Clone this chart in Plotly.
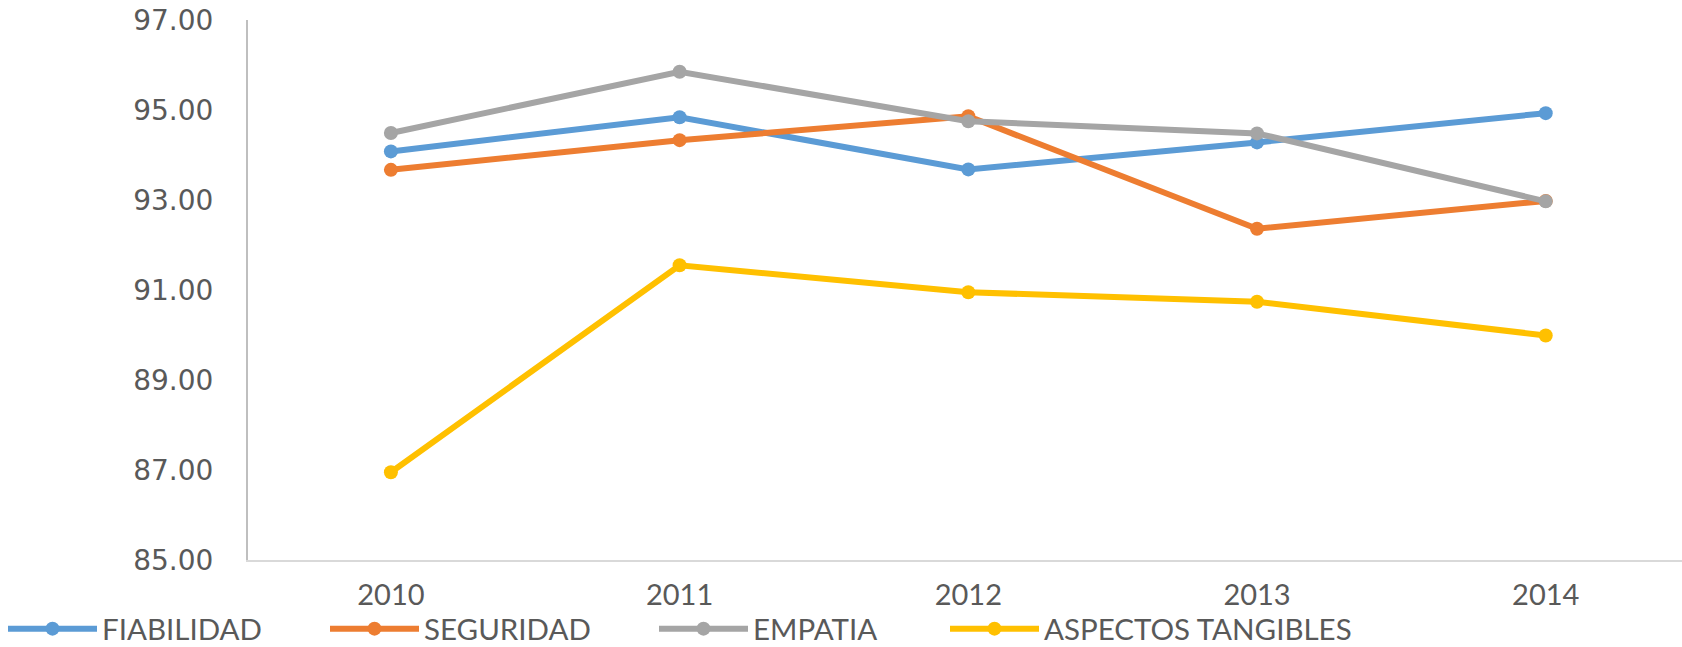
import plotly.graph_objects as go

years = ["2010", "2011", "2012", "2013", "2014"]
fiabilidad = [94.08, 94.84, 93.68, 94.28, 94.93]
seguridad = [93.67, 94.33, 94.86, 92.36, 92.98]
empatia = [94.49, 95.85, 94.75, 94.48, 92.97]
aspectos = [86.95, 91.55, 90.95, 90.74, 89.99]
series_names = ["FIABILIDAD", "SEGURIDAD", "EMPATIA", "ASPECTOS TANGIBLES"]
colors = ["#5B9BD5", "#ED7D31", "#A5A5A5", "#FFC000"]
y_ticks = [85, 87, 89, 91, 93, 95, 97]

W, H = 1682, 647
L, R, T, B = 248, 0, 20, 87
plot_w = W - L - R
plot_h = H - T - B
plot_bottom = H - B

fig = go.Figure()
legend_ids = ["legend", "legend2", "legend3", "legend4"]
for name, vals, col, lid in zip(series_names, [fiabilidad, seguridad, empatia, aspectos], colors, legend_ids):
    fig.add_trace(go.Scatter(
        x=years, y=vals, name=name, mode="lines+markers",
        line=dict(color=col, width=6),
        marker=dict(color=col, size=14),
        legend=lid,
    ))

legend_px = [3, 325, 654, 945]
legend_font = dict(family="Lato, Open Sans, sans-serif", size=29.5, color="#595959")
leg_y = (plot_bottom - 629) / plot_h
layout_legends = {}
for lid, px in zip(legend_ids, legend_px):
    layout_legends[lid] = dict(
        x=(px - L) / plot_w, y=leg_y, xanchor="left", yanchor="middle",
        orientation="h", font=legend_font, bgcolor="rgba(0,0,0,0)",
        borderwidth=0, itemwidth=89, tracegroupgap=0,
    )

fig.update_layout(
    width=W, height=H,
    margin=dict(l=L, r=R, t=T, b=B, pad=0, autoexpand=False),
    paper_bgcolor="white", plot_bgcolor="white",
    showlegend=True,
    **layout_legends,
)
fig.update_xaxes(
    type="category", range=[-0.495, 4.472],
    showgrid=False, zeroline=False,
    showline=True, linecolor="#d9d9d9", linewidth=2,
    ticks="", ticklabelstandoff=8,
    tickfont=dict(family="Lato, Open Sans, sans-serif", size=29, color="#595959"),
)
fig.update_yaxes(
    range=[85, 97], tickvals=y_ticks, tickformat=".2f",
    showgrid=False, zeroline=False,
    showline=True, linecolor="#bfbfbf", linewidth=2,
    ticks="", ticklabelstandoff=27, ticklabeloverflow="allow",
    tickfont=dict(family="DejaVu Sans, sans-serif", size=28, color="#595959"),
)

fig.write_html(
    "out.html",
    config={"displayModeBar": False},
    post_script="document.body.style.margin='0';document.body.style.padding='0';",
)
